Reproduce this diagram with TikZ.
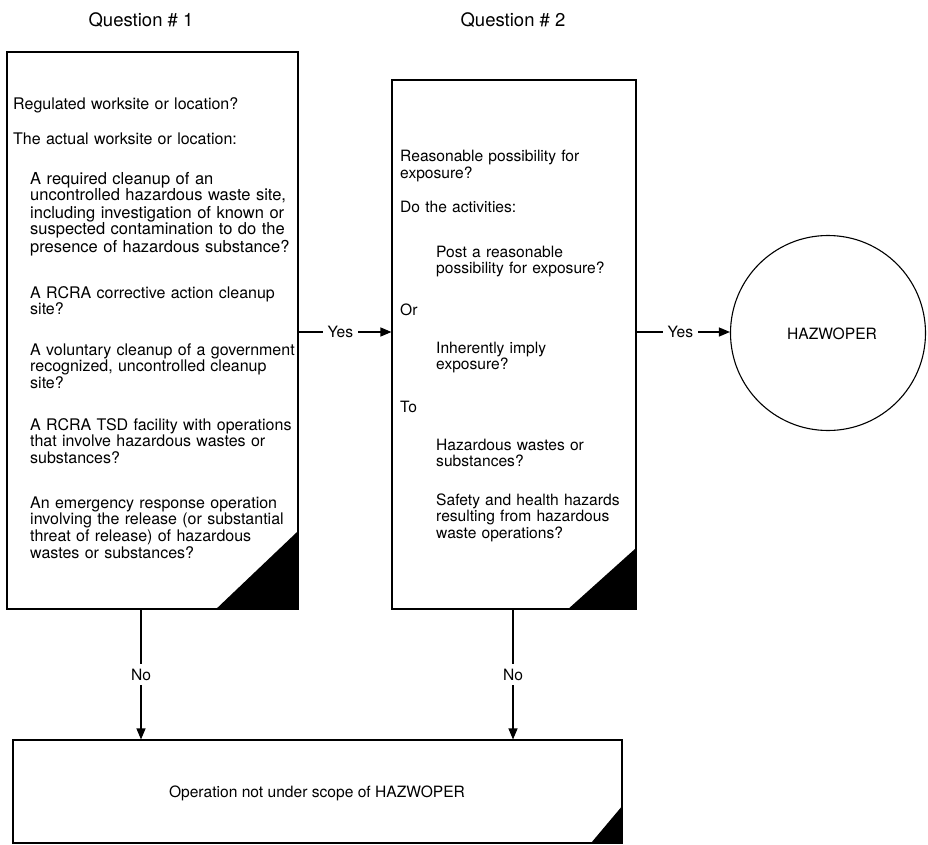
\documentclass[tikz,border=0pt]{standalone}
\usepackage{fontspec}
\setmainfont{TeX Gyre Heros}
\usetikzlibrary{arrows.meta}
\begin{document}
\begin{tikzpicture}[x=1pt,y=-1pt,
  box/.style={draw,line width=1.1pt,inner sep=0pt,fill=white},
  txt/.style={anchor=base west,inner sep=0pt,text width=290pt,align=left,
    font=\fontsize{15.6}{16.7}\selectfont},
  txtA/.style={txt,font=\fontsize{16}{16.9}\selectfont},
  lbl/.style={inner sep=0pt,font=\fontsize{15.6}{16.7}\selectfont},
  head/.style={anchor=base,inner sep=0pt,font=\fontsize{18.5}{20}\selectfont},
  arr/.style={line width=1.1pt,-{Triangle[length=11pt,width=9pt]}},
  cut/.style={fill=white,inner sep=4.5pt,font=\fontsize{15.6}{16.7}\selectfont}]
\useasboundingbox (0,0) rectangle (928,845);

% headings
\node[head] (h1) at (141,27) {Question \# 1};
\node[head] (h2) at (513,27) {Question \# 2};

% boxes
\node[box,minimum width=291pt,minimum height=557pt] (q1) at (152.5,330.5) {};
\node[box,minimum width=244pt,minimum height=529pt] (q2) at (514,344.5) {};
\node[box,draw,circle,minimum size=195pt] (res) at (828,333) {};
\node[box,minimum width=609pt,minimum height=103pt] (no) at (317.5,791.5) {};

% corner triangles
\fill (q1.south east) -- ([xshift=-83pt]q1.south east) -- ([yshift=79pt]q1.south east) -- cycle;
\fill (q2.south east) -- ([xshift=-69pt]q2.south east) -- ([yshift=62pt]q2.south east) -- cycle;
\fill (no.south east) -- ([xshift=-32pt]no.south east) -- ([yshift=38pt]no.south east) -- cycle;

% box 1 text
\node[txtA] (a1) at (13,110) {Regulated worksite or location?};
\node[txtA] (a2) at (13,145) {The actual worksite or location:};
\node[txtA,font=\fontsize{16.5}{17}\selectfont] (a3) at (30,184) {A required cleanup of an\\uncontrolled hazardous waste site,\\including investigation of known or\\suspected contamination to do the\\presence of hazardous substance?};
\node[txtA] (a4) at (30,298) {A RCRA corrective action cleanup\\site?};
\node[txtA] (a5) at (30,355) {A voluntary cleanup of a government\\recognized, uncontrolled cleanup\\site?};
\node[txtA] (a6) at (30,430) {A RCRA TSD facility with operations\\that involve hazardous wastes or\\substances?};
\node[txtA] (a7) at (30,508) {An emergency response operation\\involving the release (or substantial\\threat of release) of hazardous\\wastes or substances?};

% box 2 text
\node[txt] (b1) at (400,162) {Reasonable possibility for\\exposure?};
\node[txt] (b2) at (400,212) {Do the activities:};
\node[txt] (b3) at (436,257) {Post a reasonable\\possibility for exposure?};
\node[txt] (b4) at (400,315) {Or};
\node[txt] (b5) at (436,353) {Inherently imply\\exposure?};
\node[txt] (b6) at (400,412) {To};
\node[txt] (b7) at (436,450) {Hazardous wastes or\\substances?};
\node[txt] (b8) at (436,505) {Safety and health hazards\\resulting from hazardous\\waste operations?};

% outcomes text
\node[lbl] (r1) at (832,334) {HAZWOPER};
\node[lbl] (r2) at (317,793) {Operation not under scope of HAZWOPER};

% connectors
\coordinate (y1) at (0,332);
\draw[arr] (q1.east |- y1) -- node[cut,pos=0.45] (yes1) {Yes} (q2.west |- y1);
\draw[arr] (q2.east |- y1) -- node[cut,pos=0.47] (yes2) {Yes} (res.west |- y1);
\coordinate (x1) at (141,0);
\coordinate (x2) at (513,0);
\draw[arr] (q1.south -| x1) -- node[cut,pos=0.5] (no1) {No} (no.north -| x1);
\draw[arr] (q2.south -| x2) -- node[cut,pos=0.5] (no2) {No} (no.north -| x2);
\end{tikzpicture}
\end{document}
